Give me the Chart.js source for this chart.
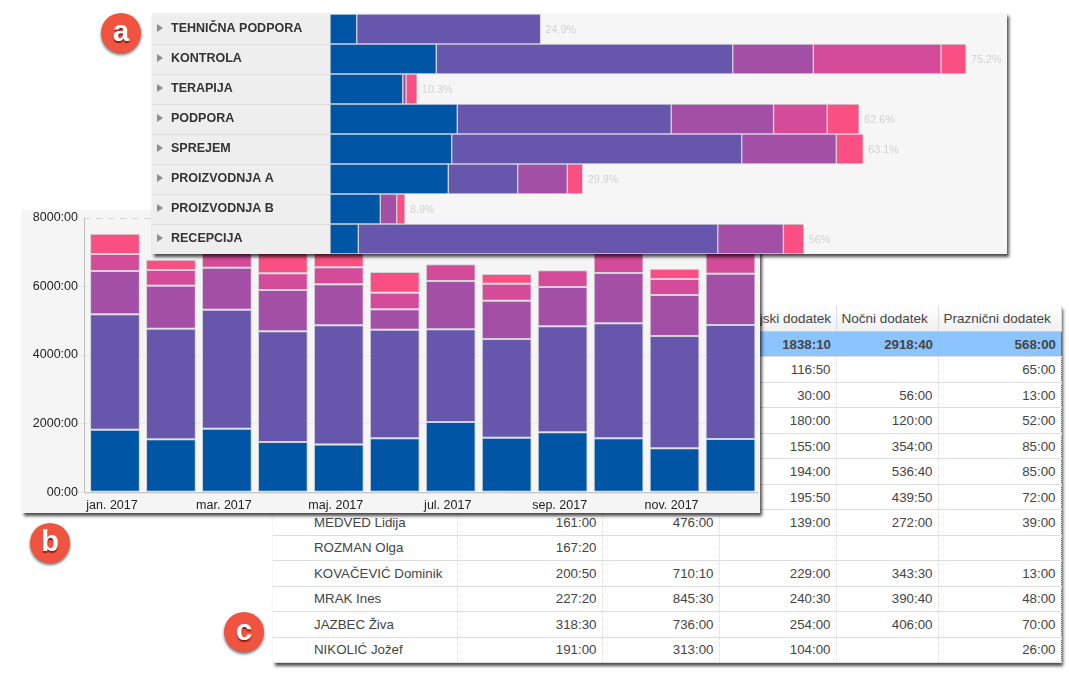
<!DOCTYPE html>
<html>
<head>
<meta charset="utf-8">
<script src="https://cdn.jsdelivr.net/npm/chart.js@4"></script>
<style>
    html, body { margin: 0; padding: 0; background: #fff; overflow: hidden; }
    body { width: 1069px; height: 686px; position: relative; font-family: "Liberation Sans", sans-serif; }
    .panel { position: absolute; box-shadow: 2px 3px 3px rgba(0, 0, 0, .7); }
    canvas { display: block; }
    #panel_a { left: 152px; top: 13px; width: 855px; height: 241px; background: #f6f6f6; z-index: 3; }
    #panel_b { left: 22px; top: 210px; width: 738px; height: 303px; background: #f5f5f5; z-index: 2; }
    #panel_c { left: 273px; top: 306px; width: 788px; height: 357px; background: #fff; z-index: 1; }
    table { border-collapse: collapse; table-layout: fixed; width: 788px; font-size: 13.3px; color: #444; }
    th, td { height: 25.48px; padding: 0 5px; box-sizing: border-box; overflow: hidden; white-space: nowrap; }
    th { font-weight: normal; text-align: left; background: linear-gradient(#fff, #f0f0f0); border-right: 1px solid #ddd; border-bottom: 1px solid #ccc; font-size: 13.5px; }
    td { text-align: right; border-bottom: 1px solid #ddd; border-right: 1px dotted #ddd; }
    td:first-child { text-align: left; padding-left: 41px; }
    tr.total td { background: #8cc4ff; font-weight: bold; border-right: 0; }
    .badge { position: absolute; width: 40px; height: 40px; border-radius: 50%; background: #f0533f; color: #fff; z-index: 4;
        font: bold 29px/36px "Liberation Sans", sans-serif; text-align: center;
        box-shadow: 0 2px 3px rgba(0, 0, 0, .55); text-shadow: 0 2px 1px #8c1f12; }
</style>
</head>
<body>
<div class="badge" style="left:101px;top:13px">a</div>
<div class="badge" style="left:30px;top:523px">b</div>
<div class="badge" style="left:224px;top:612px">c</div>

<div class="panel" id="panel_a"><canvas id="dept_chart" width="855" height="241"></canvas></div>
<div class="panel" id="panel_b"><canvas id="month_chart" width="738" height="303"></canvas></div>
<div class="panel" id="panel_c"><table id="hours_table"></table></div>

<script>
const series_colors = ['#0055a4', '#6656ac', '#a44fa6', '#d44b99', '#f94f82'];
const border_color = 'rgba(208, 208, 214, .95)';

// panel a, share per department (percent)
const departments = ['TEHNIČNA PODPORA', 'KONTROLA', 'TERAPIJA', 'PODPORA', 'SPREJEM', 'PROIZVODNJA A', 'PROIZVODNJA B', 'RECEPCIJA'];
const dept_totals = ['24.9%', '75.2%', '10.3%', '62.6%', '63.1%', '29.9%', '8.9%', '56%'];
const dept_blue = [3.16, 12.57, 8.6, 15.05, 14.39, 13.99, 5.95, 3.35];
const dept_purple = [21.74, 35.05, null, 25.3, 34.29, 8.2, null, 42.5];
const dept_violet = [null, 9.53, 0.4, 12.1, 11.19, 5.87, 1.94, 7.76];
const dept_magenta = [null, 15.1, null, 6.34, null, null, null, null];
const dept_pink = [null, 2.96, 1.3, 3.78, 3.19, 1.82, 0.98, 2.41];

// panel b, hours per month
const months = ['jan. 2017', 'feb. 2017', 'mar. 2017', 'apr. 2017', 'maj. 2017', 'jun. 2017', 'jul. 2017', 'avg. 2017', 'sep. 2017', 'okt. 2017', 'nov. 2017', 'dec. 2017'];
const month_blue = [1825, 1544, 1855, 1466, 1389, 1573, 2049, 1592, 1748, 1573, 1282, 1554];
const month_purple = [3360, 3224, 3466, 3224, 3476, 3165, 2699, 2875, 3088, 3350, 3272, 3320];
const month_violet = [1262, 1252, 1224, 1204, 1194, 593, 1408, 1116, 1145, 1466, 1194, 1496];
const month_magenta = [496, 457, 500, 485, 495, 485, 486, 495, 486, 590, 466, 640];
const month_pink = [592, 301, 400, 920, 496, 602, null, 282, null, 420, 301, 300];

// panel c, table (rows hidden behind panel b stay blank where unreadable)
const table_headers = ['', '', '', 'Nedeljski dodatek', 'Nočni dodatek', 'Praznični dodatek'];
const table_total = ['', '', '', '1838:10', '2918:40', '568:00'];
const table_rows = [
    ['', '', '', '116:50', '', '65:00'],
    ['', '', '', '30:00', '56:00', '13:00'],
    ['', '', '', '180:00', '120:00', '52:00'],
    ['', '', '', '155:00', '354:00', '85:00'],
    ['', '', '', '194:00', '536:40', '85:00'],
    ['', '', '', '195:50', '439:50', '72:00'],
    ['MEDVED Lidija', '161:00', '476:00', '139:00', '272:00', '39:00'],
    ['ROZMAN Olga', '167:20', '', '', '', ''],
    ['KOVAČEVIĆ Dominik', '200:50', '710:10', '229:00', '343:30', '13:00'],
    ['MRAK Ines', '227:20', '845:30', '240:30', '390:40', '48:00'],
    ['JAZBEC Živa', '318:30', '736:00', '254:00', '406:00', '70:00'],
    ['NIKOLIĆ Jožef', '191:00', '313:00', '104:00', '', '26:00'],
];
const column_widths = [184, 145, 117, 117, 102, 123];

Chart.defaults.font.family = '"Liberation Sans", sans-serif';
Chart.defaults.animation = false;

function make_datasets(series, bar_percentage) {
    return series.map((data, i) => ({
        data: data,
        backgroundColor: series_colors[i],
        borderColor: border_color,
        borderWidth: 1,
        borderSkipped: false,
        barPercentage: bar_percentage,
        categoryPercentage: 1,
    }));
}

// stop the axes from reserving room for half of their first and last labels
function clear_scale_padding(scale) {
    scale.paddingTop = 0;
    scale.paddingBottom = 0;
    scale.paddingLeft = 0;
    scale.paddingRight = 0;
}

// grey label column, row lines and little triangles on the left of panel a
const dept_column = {
    id: 'dept_column',
    beforeDraw(chart) {
        const { ctx, chartArea, scales } = chart;
        ctx.save();
        ctx.fillStyle = '#eeeeee';
        ctx.fillRect(0, 0, chartArea.left, chart.height);
        ctx.strokeStyle = '#dcdcdc';
        departments.forEach((d, i) => {
            const y = scales.y.getPixelForTick(i);
            if (i > 0) {
                const line_y = Math.round(y - 15) + .5;
                ctx.beginPath();
                ctx.moveTo(0, line_y);
                ctx.lineTo(chartArea.left, line_y);
                ctx.stroke();
            }
            ctx.fillStyle = '#8f8f8f';
            ctx.beginPath();
            ctx.moveTo(5, y - 5);
            ctx.lineTo(11, y - 1);
            ctx.lineTo(5, y + 3);
            ctx.fill();
        });
        ctx.restore();
    },
    afterDatasetsDraw(chart) {
        const { ctx, scales } = chart;
        const series = chart.data.datasets.map(d => d.data);
        ctx.save();
        ctx.fillStyle = '#d2d2d2';
        ctx.font = '10.8px "Liberation Sans", sans-serif';
        ctx.textBaseline = 'middle';
        dept_totals.forEach((label, i) => {
            const end = series.reduce((sum, s) => sum + (s[i] || 0), 0);
            ctx.fillText(label, scales.x.getPixelForValue(end) + 5, scales.y.getPixelForTick(i) + 1);
        });
        ctx.restore();
    }
};

new Chart(document.getElementById('dept_chart'), {
    type: 'bar',
    data: {
        labels: departments,
        datasets: make_datasets([dept_blue, dept_purple, dept_violet, dept_magenta, dept_pink], 1)
    },
    options: {
        indexAxis: 'y',
        responsive: false,
        layout: { padding: { left: 19, top: 1 } },
        plugins: { legend: { display: false }, tooltip: { enabled: false } },
        scales: {
            x: { stacked: true, display: false, min: 0, max: 80.05 },
            y: {
                stacked: true,
                grid: { display: false },
                border: { display: false },
                afterFit(scale) {
                    scale.width = 159;
                    clear_scale_padding(scale);
                },
                ticks: { crossAlign: 'far', color: '#333', font: { size: 12.5, weight: 'bold' } }
            }
        }
    },
    plugins: [dept_column]
});

// axis lines of panel b sit 3px left of the first category band
const month_axes = {
    id: 'month_axes',
    beforeDatasetsDraw(chart) {
        const { ctx, chartArea, scales } = chart;
        const x0 = chartArea.left - 3;
        const y_top = scales.y.getPixelForValue(8000);
        ctx.save();
        ctx.strokeStyle = '#d4d4d4';
        ctx.setLineDash([6, 6]);
        ctx.beginPath();
        ctx.moveTo(x0, Math.round(y_top) + .5);
        ctx.lineTo(chart.width, Math.round(y_top) + .5);
        ctx.stroke();
        ctx.setLineDash([]);
        ctx.strokeStyle = '#bdbdbd';
        ctx.beginPath();
        ctx.moveTo(x0 + .5, y_top);
        ctx.lineTo(x0 + .5, chartArea.bottom + .5);
        ctx.lineTo(chartArea.right, chartArea.bottom + .5);
        ctx.stroke();
        ctx.restore();
    }
};

new Chart(document.getElementById('month_chart'), {
    type: 'bar',
    data: {
        labels: months,
        datasets: make_datasets([month_blue, month_purple, month_violet, month_magenta, month_pink], .89)
    },
    options: {
        responsive: false,
        layout: { padding: { top: 7.7, right: 1.5 } },
        plugins: { legend: { display: false }, tooltip: { enabled: false } },
        scales: {
            x: {
                stacked: true,
                grid: { display: false, drawTicks: false },
                border: { display: false },
                afterFit(scale) {
                    scale.height = 20.7;
                    clear_scale_padding(scale);
                },
                ticks: {
                    autoSkip: false,
                    maxRotation: 0,
                    padding: 6,
                    labelOffset: -3,
                    color: '#222',
                    font: { size: 12.5 },
                    callback(value, index) { return index % 2 ? '' : months[index]; }
                }
            },
            y: {
                stacked: true,
                min: 0,
                max: 8000,
                afterFit(scale) {
                    scale.width = 65;
                    clear_scale_padding(scale);
                },
                grid: {
                    color: c => c.tick.value === 8000 ? 'transparent' : '#e8e8e8',
                    tickLength: 9
                },
                border: { display: false },
                ticks: {
                    stepSize: 2000,
                    padding: 0,
                    color: '#222',
                    font: { size: 12.5 },
                    callback: v => v === 0 ? '00:00' : `${v}:00`
                }
            }
        }
    },
    plugins: [month_axes]
});

function build_table() {
    const cols = column_widths.map(w => `<col style="width:${w}px">`).join('');
    const cells = (row, tag) => row.map(c => `<${tag}>${c}</${tag}>`).join('');
    const rows = table_rows.map(r => `<tr>${cells(r, 'td')}</tr>`).join('');
    document.getElementById('hours_table').innerHTML =
        `<colgroup>${cols}</colgroup>` +
        `<tr>${cells(table_headers, 'th')}</tr>` +
        `<tr class="total">${cells(table_total, 'td')}</tr>` +
        rows;
}

build_table();
</script>
</body>
</html>
